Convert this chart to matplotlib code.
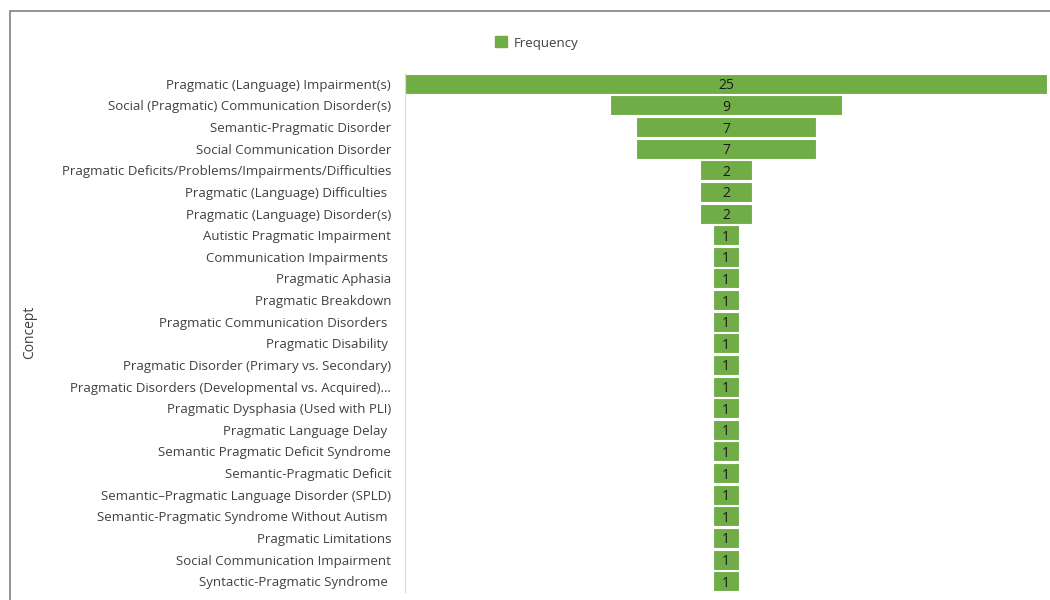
import matplotlib.pyplot as plt
from matplotlib.patches import Rectangle, Patch

concepts = [
    "Pragmatic (Language) Impairment(s)",
    "Social (Pragmatic) Communication Disorder(s)",
    "Semantic-Pragmatic Disorder",
    "Social Communication Disorder",
    "Pragmatic Deficits/Problems/Impairments/Difficulties",
    "Pragmatic (Language) Difficulties ",
    "Pragmatic (Language) Disorder(s)",
    "Autistic Pragmatic Impairment",
    "Communication Impairments ",
    "Pragmatic Aphasia",
    "Pragmatic Breakdown",
    "Pragmatic Communication Disorders ",
    "Pragmatic Disability ",
    "Pragmatic Disorder (Primary vs. Secondary)",
    "Pragmatic Disorders (Developmental vs. Acquired)…",
    "Pragmatic Dysphasia (Used with PLI)",
    "Pragmatic Language Delay ",
    "Semantic Pragmatic Deficit Syndrome",
    "Semantic-Pragmatic Deficit",
    "Semantic\u2013Pragmatic Language Disorder (SPLD)",
    "Semantic-Pragmatic Syndrome Without Autism ",
    "Pragmatic Limitations",
    "Social Communication Impairment",
    "Syntactic-Pragmatic Syndrome ",
]
frequency = [25, 9, 7, 7, 2, 2, 2, 1, 1, 1, 1, 1, 1, 1, 1, 1, 1, 1, 1, 1, 1, 1, 1, 1]

plt.rcParams['font.family'] = ['Open Sans', 'DejaVu Sans']
green = '#70ad47'

fig = plt.figure(figsize=(10.5, 6), dpi=100)
# outer chart frame
fig.patches.append(Rectangle((10 / 1050, -0.1), 1.2, 1 - 11 / 600 + 0.1,
                             transform=fig.transFigure, fill=False,
                             edgecolor='#7f7f7f', lw=1.2))

ax = fig.add_axes([405 / 1050, 8 / 600, 642 / 1050, 519 / 600])
n = len(concepts)
ys = list(range(n))
lefts = [-f / 2 for f in frequency]
ax.barh(ys, frequency, left=lefts, height=0.92, color=green,
        edgecolor='white', lw=0.8)
for y, f in zip(ys, frequency):
    ax.text(0, y, str(f), ha='center', va='center_baseline', fontsize=10,
            color='#1a1a1a')

ax.set_xlim(-12.5, 12.5)
ax.set_ylim(n - 0.5, -0.5)
ax.set_yticks(ys)
ax.set_yticklabels(concepts, fontsize=9.5, color='#404040')
ax.tick_params(axis='y', length=0, pad=10)
ax.set_xticks([])
for side in ['top', 'right', 'bottom']:
    ax.spines[side].set_visible(False)
ax.spines['left'].set_color('#d9d9d9')

fig.text(30 / 1050, 1 - 332 / 600, "Concept", rotation=90, ha='center',
         va='center', fontsize=10, color='#404040')

fig.legend(handles=[Patch(color=green, label='Frequency')], loc='center',
           bbox_to_anchor=(537 / 1050, 1 - 43 / 600), frameon=False,
           fontsize=9.5, handlelength=0.9, handleheight=0.9, handletextpad=0.5,
           labelcolor='#404040')

fig.savefig('out.png', dpi=100)
